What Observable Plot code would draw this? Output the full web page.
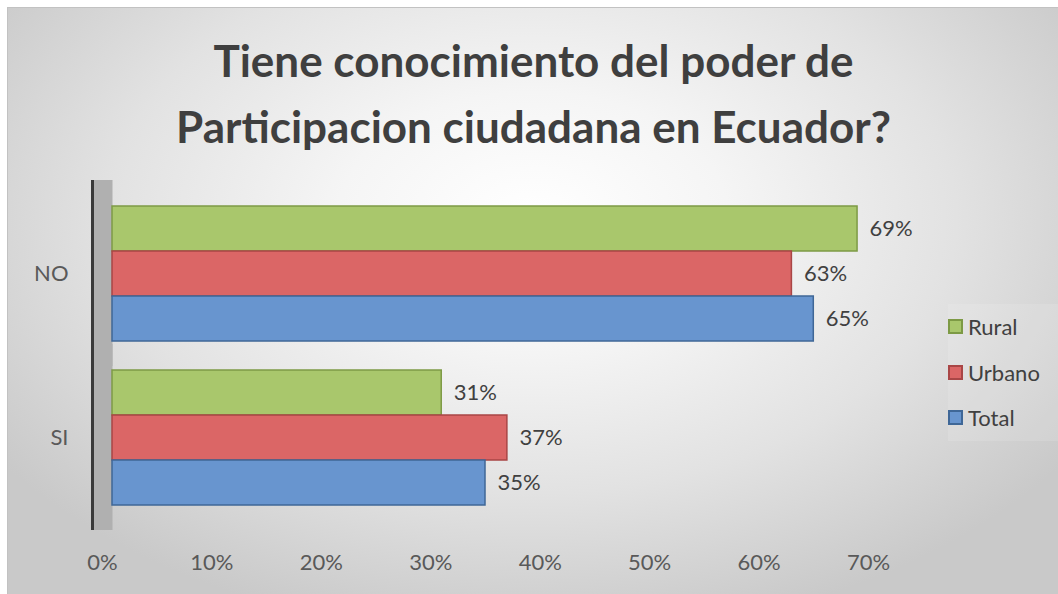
<!DOCTYPE html>
<html><head><meta charset="utf-8">
<script src="https://cdn.jsdelivr.net/npm/d3@7"></script>
<script src="https://cdn.jsdelivr.net/npm/@observablehq/plot@0.6"></script>
<style>
html,body{margin:0;padding:0;background:#fff;width:1058px;height:594px;overflow:hidden;font-family:Lato,"Open Sans",sans-serif;}
#chart{position:absolute;left:7px;top:7px;width:1051px;height:587px;box-sizing:border-box;
  border-top:1px solid #c2c2c2;border-left:1px solid #c2c2c2;
  background:radial-gradient(ellipse 62% 72% at 50% 36%, #ffffff 0%, #f5f5f5 30%, #e2e2e2 65%, #c9c9c9 100%);}
.title{position:absolute;left:0;width:1051px;text-align:center;font-weight:700;font-size:44px;line-height:1;color:#3f3f3f;white-space:nowrap;}
#plot{position:absolute;left:-1px;top:162px;}
#legend{position:absolute;left:940px;top:296px;width:112px;background:rgba(255,255,255,0.12);}
.row{height:45.5px;display:flex;align-items:center;font-size:22px;color:#404040;}
.sw{width:11px;height:11px;border:2px solid;margin-right:5px;}
</style></head>
<body>
<div id="chart">
  <div class="title" id="t1" style="top:30px"></div>
  <div class="title" id="t2" style="top:96px"></div>
  <div id="plot"></div>
  <div id="legend"></div>
</div>
<script>
const titleLines = ["Tiene conocimiento del poder de", "Participacion ciudadana en Ecuador?"];
const categories = ["NO", "SI"];
const series = ["Rural", "Urbano", "Total"];
const rural = [0.69, 0.31];
const urbano = [0.63, 0.37];
const total = [0.65, 0.35];
const xTicks = [0, 0.1, 0.2, 0.3, 0.4, 0.5, 0.6, 0.7];
const fills = ["#a9c76c", "#db6666", "#6895cf"];
const strokes = ["#7d9a45", "#a94646", "#3f6797"];

document.getElementById("t1").textContent = titleLines[0];
document.getElementById("t2").textContent = titleLines[1];

const values = [rural, urbano, total];
const data = categories.flatMap((c, i) => series.map((s, j) => ({category: c, series: s, value: values[j][i]})));
const pct = d3.format(".0%");

const bars = series.map((s, j) => Plot.barX(data.filter(d => d.series === s), {
  x: "value", y: "series", fy: "category", insetLeft: 10,
  fill: fills[j], stroke: strokes[j], strokeWidth: 1.5
}));

const chart = Plot.plot({
  width: 930, height: 424,
  marginLeft: 95, marginRight: 69, marginTop: 35, marginBottom: 89,
  style: {background: "transparent", color: "#595959", fontFamily: "Lato, 'Open Sans', sans-serif"},
  x: {domain: [0, 0.7], axis: null},
  y: {domain: series, padding: 0, axis: null},
  fy: {domain: categories, paddingInner: 0.171, paddingOuter: 0, axis: null},
  marks: [
    Plot.ruleX([0], {stroke: "#b0b0b0", strokeWidth: 20, insetTop: -25, insetBottom: -25}),
    Plot.ruleX([0], {stroke: "#3a3a3a", strokeWidth: 3, dx: -10, insetTop: -25, insetBottom: -25}),
    ...bars,
    Plot.text(data, {x: "value", y: "series", fy: "category", text: d => pct(d.value), dx: 12, textAnchor: "start", fontSize: 22, fill: "#404040"}),
    Plot.axisX({ticks: xTicks, tickFormat: pct, tickSize: 0, tickPadding: 49, fontSize: 22, label: null}),
    Plot.axisFy({anchor: "left", tickSize: 0, tickPadding: 34, fontSize: 22, label: null})
  ]
});
document.getElementById("plot").appendChild(chart);

const legend = document.getElementById("legend");
series.forEach((s, j) => {
  const row = document.createElement("div");
  row.className = "row";
  const sw = document.createElement("div");
  sw.className = "sw";
  sw.style.background = fills[j];
  sw.style.borderColor = strokes[j];
  const lab = document.createElement("span");
  lab.textContent = s;
  row.appendChild(sw); row.appendChild(lab);
  legend.appendChild(row);
});
</script>
</body></html>
